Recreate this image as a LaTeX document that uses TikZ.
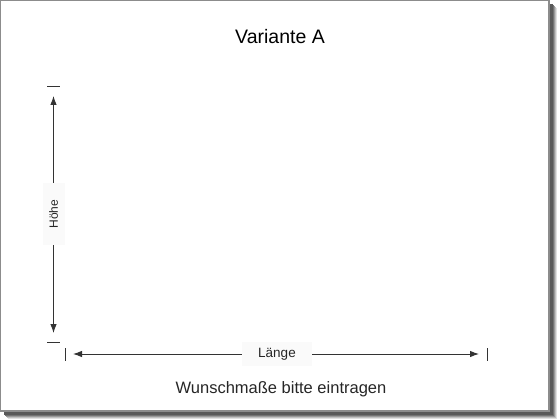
\documentclass[tikz,border=0pt]{standalone}
\usepackage{fontspec}
\setmainfont{Liberation Sans}
\usetikzlibrary{arrows.meta,positioning}

\begin{document}
\begin{tikzpicture}[x=1pt,y=-1pt,
		dim/.style={draw=black!80,line width=0.9pt,-{Latex[length=9pt,width=6.5pt]}},
		endmark/.style={draw=black!80,line width=1pt},
		lbl/.style={fill=black!2,inner sep=0pt,text=black!85}]
		\useasboundingbox (0,0) rectangle (560,420);
		\foreach \d/\c in {8/black!12,7/black!25,6/black!40,5/black!55,4/black!65}
			\fill[\c] (\d,\d) rectangle (549+\d,411+\d);
		\draw[black!45,fill=white,line width=1.2pt] (0.6,0.6) rectangle (549,411);
		
		\coordinate (htop) at (53.5,96);
		\coordinate (hbot) at (53.5,333);
		\coordinate (lleft) at (73,354);
		\coordinate (lright) at (479,354);
		
		\node (titel) at (280,37) {\fontsize{19.5}{22}\selectfont Variante A};
		\node[text=black!85] (hinweis) at (281,389) {\fontsize{16.5}{19}\selectfont Wunschmaße bitte eintragen};
		
		\node[lbl,rotate=90,minimum width=62pt,minimum height=22pt,font=\fontsize{12}{14}\selectfont] (hoehe) at (53.5,214) {Höhe};
		\node[lbl,minimum width=70pt,minimum height=24pt,font=\fontsize{13.5}{16}\selectfont] (laenge) at (277,354) {Länge};
		
		\draw[dim] (hoehe.east) -- (htop);
		\draw[dim] (hoehe.west) -- (hbot);
		\draw[dim] (laenge.west) -- (lleft);
		\draw[dim] (laenge.east) -- (lright);
		
		\draw[endmark] (47,87) -- (60,87);
		\draw[endmark] (47,342) -- (60,342);
		\draw[endmark] (65,348) -- (65,361);
		\draw[endmark] (487,348) -- (487,361);
	\end{tikzpicture}
\end{document}
